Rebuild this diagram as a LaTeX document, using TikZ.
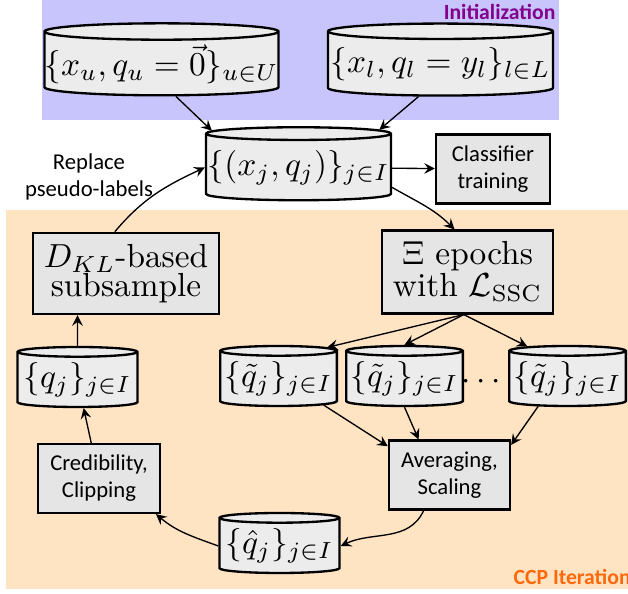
\documentclass[tikz,border=0pt]{standalone}
\usepackage{fontspec}
\usepackage{amsmath}
\newfontfamily\labelfont{Carlito}
\usetikzlibrary{shapes.geometric}
\definecolor{initbg}{RGB}{200,196,252}
\definecolor{iterbg}{RGB}{255,228,196}
\definecolor{inittext}{RGB}{130,0,140}
\definecolor{itertext}{RGB}{255,105,10}

\begin{document}
\begin{tikzpicture}[x=0.3pt, y=0.3pt,
    store/.style={cylinder, shape border rotate=90, aspect=0.09, draw, line width=0.7pt,
        fill=gray!15, inner xsep=0pt, inner ysep=1pt, font=\fontsize{9.7}{11}\selectfont},
    task/.style={rectangle, draw, line width=0.7pt, fill=gray!20, align=center},
    note/.style={font=\labelfont\fontsize{6.8}{8.1}\selectfont, align=center},
    phase/.style={font=\labelfont\bfseries\fontsize{6.5}{8}\selectfont, inner sep=0pt},
    flow/.style={-stealth}]
    \useasboundingbox (0,0) rectangle (628,593);

    % backgrounds
    \fill[initbg] (42,473) rectangle (559,593);
    \fill[iterbg] (6,4) rectangle (640,383);
    \node[phase, anchor=base east, text=inittext] (initlbl) at (556,574) {Initialization};
    \node[phase, anchor=base west, text=itertext] (iterlbl) at (513,9) {CCP Iteration};

    % initial data
    \node[store, aspect=0.07, minimum width=68.7pt, minimum height=21.6pt] (dbu) at (161.5,529)
        {$\{x_u, q_u=\vec{0}\}_{u\in U}$};
    \node[store, aspect=0.07, minimum width=67.5pt, minimum height=21.6pt] (dbl) at (440.5,529)
        {$\{x_l, q_l=y_l\}_{l\in L}$};
    \node[store, aspect=0.07, minimum width=55.5pt, minimum height=21.9pt] (dbj) at (298.5,425.5)
        {$\{(x_j,q_j)\}_{j\in I}$};
    \node[task, note, minimum width=34.2pt, minimum height=18.6pt] (train) at (493,424)
        {Classifier\\training};
    \node[note] (replace) at (89,416) {Replace\\pseudo-labels};

    % iteration
    \node[task, font=\fontsize{10}{8.8}\selectfont, minimum width=52.2pt, minimum height=21.3pt]
        (dkl) at (126,319.5) {$D_{KL}$-based\\subsample};
    \node[task, font=\fontsize{10}{9.6}\selectfont, minimum width=50.7pt, minimum height=21pt]
        (xi) at (467.5,321) {$\Xi$ epochs\\with $\mathcal{L}_{\mathrm{SSC}}$};
    \node[store, minimum width=36pt, minimum height=18pt] (qj) at (77.5,213) {$\{q_j\}_{j\in I}$};
    \node[store, minimum width=35pt, minimum height=18pt] (t1) at (278.5,214) {$\{\tilde{q}_j\}_{j\in I}$};
    \node[store, minimum width=35pt, minimum height=18pt] (t2) at (404.5,214) {$\{\tilde{q}_j\}_{j\in I}$};
    \node[store, minimum width=35pt, minimum height=18pt] (t3) at (567.5,214) {$\{\tilde{q}_j\}_{j\in I}$};
    \node (dots) at (484,211) {$\cdots$};
    \node[task, note, minimum width=36.6pt, minimum height=15.9pt] (cred) at (99,114.5)
        {Credibility,\\Clipping};
    \node[task, note, minimum width=36.3pt, minimum height=16.2pt] (avg) at (449.5,118)
        {Averaging,\\Scaling};
    \node[store, minimum width=36pt, minimum height=18pt] (qhat) at (279.5,47) {$\{\hat{q}_j\}_{j\in I}$};

    % connectors
    \draw[flow] (dbu.-66) -- (dbj.157);
    \draw[flow] (dbl.-124) -- (dbj.25);
    \draw[flow] (dbj) -- (train);
    \draw[flow] (dbj.-12) to[out=-30, in=135] (xi.107);
    \draw[flow] (xi.-95) -- (t1.33);
    \draw[flow] (xi.-95) -- (t2.north);
    \draw[flow] (xi.-95) -- (t3.141);
    \draw[flow] (t1.-30) -- (avg.155);
    \draw[flow] (t2.south) -- (avg.131);
    \draw[flow] (t3.-137) -- (avg.26);
    \draw[flow] (avg.-126) to[out=-115, in=25] (qhat.east);
    \draw[flow] (qhat.west) to[out=160, in=-40] (cred.-32);
    \draw[flow] (cred) -- (qj);
    \draw[flow] (qj) -- (qj |- dkl.south);
    \draw[flow] (dkl.105) to[out=50, in=205] (dbj.west);
\end{tikzpicture}
\end{document}
